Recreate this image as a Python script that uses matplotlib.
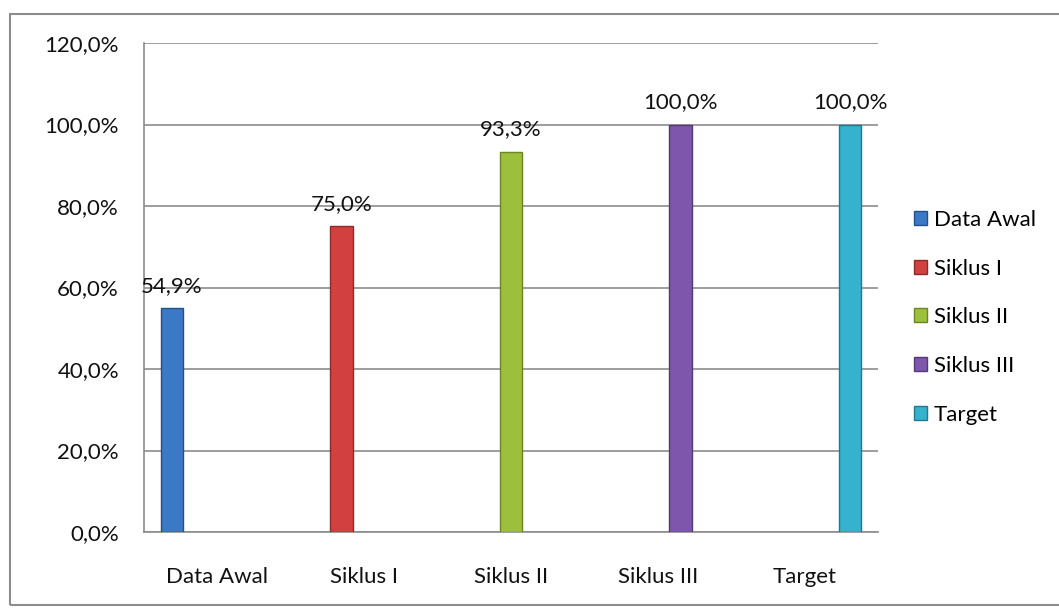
import matplotlib
matplotlib.use("Agg")
import matplotlib.pyplot as plt
import numpy as np
from matplotlib.patches import Rectangle
from matplotlib.ticker import FuncFormatter

categories = ["Data Awal", "Siklus I", "Siklus II", "Siklus III", "Target"]
values = [54.9, 75.0, 93.3, 100.0, 100.0]
colors = ["#3B78C6", "#D2403F", "#9DC03C", "#7E56AC", "#35B2CE"]
edges = ["#24508A", "#8E2A2A", "#6A8426", "#553A78", "#21798E"]
yticks = [0, 20, 40, 60, 80, 100, 120]

plt.rcParams['font.family'] = ['Lato', 'DejaVu Sans']
FS = 16

fig = plt.figure(figsize=(10.59, 6.10), dpi=100)
fig.patches.append(Rectangle((10/1059, 5/610), 1.2, 591/610, transform=fig.transFigure,
                             fill=False, edgecolor="#8C8C8C", linewidth=1.5, zorder=0))

ax = fig.add_axes([144/1059, 78/610, 734/1059, 489/610])
x = np.arange(len(categories))
w = 0.155
for i, (c, v) in enumerate(zip(categories, values)):
    xpos = x[i] + (i - 2) * w
    ax.bar(xpos, v, width=w, color=colors[i], edgecolor=edges[i], linewidth=1.0,
           label=c, zorder=3)
    ax.text(xpos, v + 3.0, f"{v:.1f}%".replace(".", ","), ha="center", va="bottom",
            fontsize=FS, color="#111111", zorder=4)

ax.set_xlim(-0.5, len(categories) - 0.5)
ax.set_ylim(0, 120)
ax.set_yticks(yticks)
ax.yaxis.set_major_formatter(FuncFormatter(lambda v, p: f"{v:.1f}%".replace(".", ",")))
ax.set_xticks(x)
ax.set_xticklabels(categories)
ax.tick_params(axis="y", length=0, pad=18, labelsize=FS, colors="#111111")
ax.tick_params(axis="x", length=0, pad=25, labelsize=FS, colors="#111111")
ax.grid(axis="y", color="#8C8C8C", linewidth=1.2, zorder=0)
for s in ["top", "right"]:
    ax.spines[s].set_visible(False)
for s in ["left", "bottom"]:
    ax.spines[s].set_color("#8C8C8C")
    ax.spines[s].set_linewidth(1.2)

leg = fig.legend(loc="upper left", bbox_to_anchor=(905/1059, 1 - 201/610), frameon=False,
                 fontsize=FS, handlelength=0.6, handleheight=0.6, handletextpad=0.3,
                 labelspacing=1.29, borderaxespad=0)

fig.savefig("out.png", dpi=100)
